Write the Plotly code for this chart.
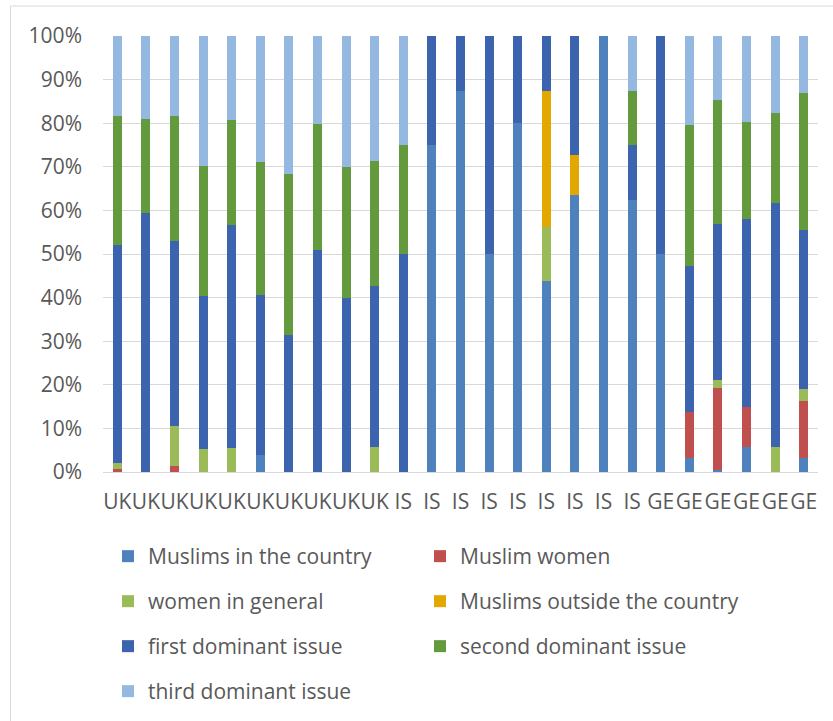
import plotly.graph_objects as go

categories = ["UK"] * 10 + ["IS"] * 9 + ["GE"] * 6

muslims_in_country = [0, 0, 0, 0, 0, 3.8, 0, 0, 0, 0,
                      0, 75, 87.5, 50, 80, 43.75, 63.6, 100, 62.5,
                      50, 3.2, 0.5, 5.7, 0, 3.3]
muslim_women = [0.6, 0, 1.4, 0, 0, 0, 0, 0, 0, 0,
                0, 0, 0, 0, 0, 0, 0, 0, 0,
                0, 10.6, 18.8, 9.3, 0, 13.0]
women_general = [1.5, 0, 9.1, 5.3, 5.4, 0, 0, 0, 0, 5.7,
                 0, 0, 0, 0, 0, 12.5, 0, 0, 0,
                 0, 0, 1.8, 0, 5.7, 2.8]
muslims_outside = [0, 0, 0, 0, 0, 0, 0, 0, 0, 0,
                   0, 0, 0, 0, 0, 31.25, 9.1, 0, 0,
                   0, 0, 0, 0, 0, 0]
first_issue = [50.0, 59.4, 42.5, 35.1, 51.3, 36.9, 31.5, 50.9, 39.9, 36.9,
               50, 25, 12.5, 50, 20, 12.5, 27.3, 0, 12.5,
               50, 33.4, 35.8, 43.0, 56.0, 36.3]
second_issue = [29.6, 21.6, 28.7, 29.8, 24.1, 30.3, 36.8, 29.0, 30.0, 28.7,
                25, 0, 0, 0, 0, 0, 0, 0, 12.5,
                0, 32.3, 28.4, 22.2, 20.6, 31.5]
third_issue = [18.3, 19.0, 18.3, 29.8, 19.2, 29.0, 31.7, 20.1, 30.1, 28.7,
               25, 0, 0, 0, 0, 0, 0, 0, 12.5,
               0, 20.5, 14.7, 19.8, 17.7, 13.1]

series = [
    ("Muslims in the country", muslims_in_country, "#4F81BD"),
    ("Muslim women", muslim_women, "#C0504D"),
    ("women in general", women_general, "#9BBB59"),
    ("Muslims outside the country", muslims_outside, "#E2A700"),
    ("first dominant issue", first_issue, "#3C64AE"),
    ("second dominant issue", second_issue, "#629A3D"),
    ("third dominant issue", third_issue, "#95B8E0"),
]

x = list(range(len(categories)))
FONT = "Open Sans"
FS = 21
TXT = "#595959"

# legend positions (container px): item start x, top y
leg_pos = [(108, 536), (420, 536), (108, 581), (420, 581),
           (108, 626), (420, 626), (108, 671)]

fig = go.Figure()
layout_legends = {}
for i, (name, vals, col) in enumerate(series):
    lname = "legend" if i == 0 else f"legend{i + 1}"
    fig.add_trace(go.Bar(x=x, y=vals, name=name, marker_color=col,
                         marker_line_width=0, legend=lname))
    lx, ly = leg_pos[i]
    layout_legends[lname] = dict(
        x=lx / 833, y=1 - ly / 721, xref="container", yref="container",
        xanchor="left", yanchor="top", bgcolor="rgba(0,0,0,0)",
        font=dict(family=FONT, size=FS, color=TXT), orientation="h",
    )

W, H = 833, 721
L, R, T, B = 103, 15, 36, 249
pw = W - L - R
ph = H - T - B

fig.update_layout(
    width=W, height=H, barmode="stack", bargap=0.685,
    margin=dict(l=L, r=R, t=T, b=B),
    paper_bgcolor="white", plot_bgcolor="white",
    font=dict(family=FONT, size=FS, color=TXT),
    showlegend=True,
    **layout_legends,
)
fig.update_xaxes(
    tickmode="array", tickvals=x, ticktext=categories,
    range=[-0.5, len(x) - 0.5], showgrid=False, zeroline=False,
    showline=False, ticks="", ticklabelstandoff=15,
    tickfont=dict(family=FONT, size=FS, color=TXT), tickangle=0,
)
fig.update_yaxes(
    range=[0, 100], dtick=10, ticksuffix="%", showgrid=True,
    gridcolor="#D9D9D9", gridwidth=1, zeroline=True, zerolinecolor="#D9D9D9",
    zerolinewidth=1, showline=False, ticks="", ticklabelstandoff=20,
    tickfont=dict(family=FONT, size=FS, color=TXT),
)
# chart frame (left and top edges visible)
fx0 = (10.5 - L) / pw
fy1 = (H - B - 6) / ph
fig.add_shape(type="line", xref="paper", yref="paper", x0=fx0, x1=fx0,
              y0=-2, y1=fy1, line=dict(color="#D9D9D9", width=1))
fig.add_shape(type="line", xref="paper", yref="paper", x0=fx0, x1=1.5,
              y0=fy1, y1=fy1, line=dict(color="#D9D9D9", width=1))

fig.write_html("out.html")
